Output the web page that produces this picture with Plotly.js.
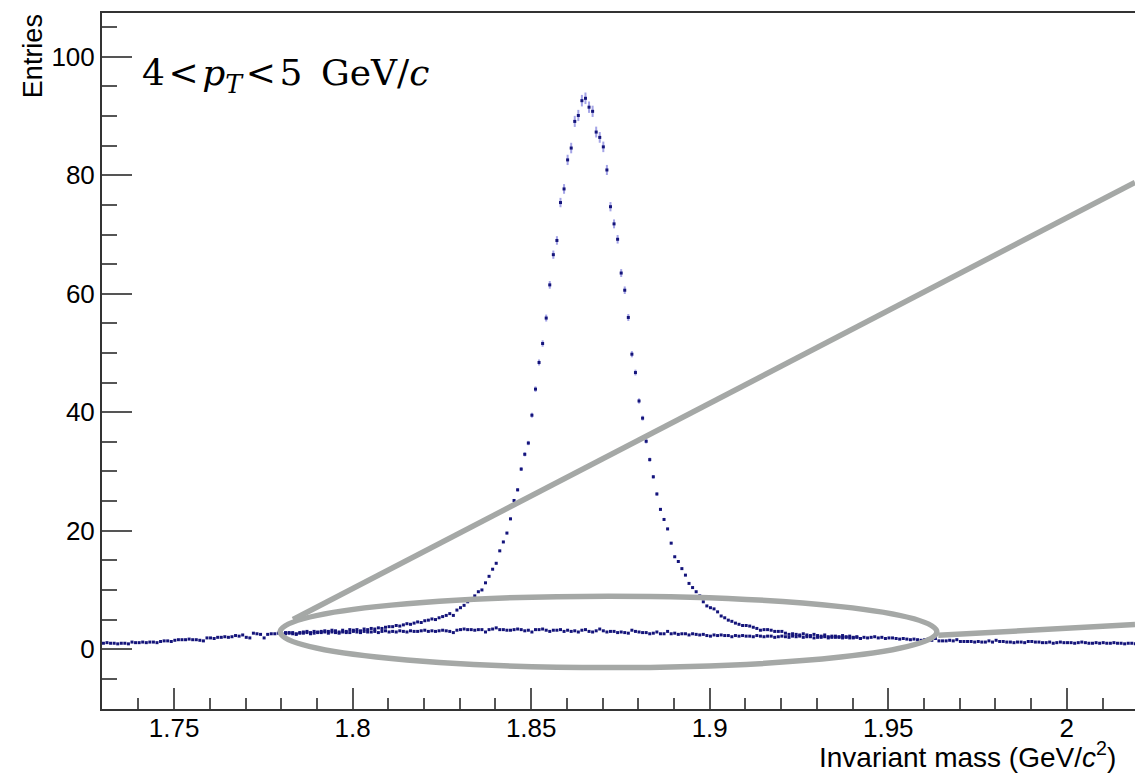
<!DOCTYPE html>
<html><head><meta charset="utf-8">
<script src="https://cdn.plot.ly/plotly-3.0.1.min.js"></script>
<style>html,body{margin:0;padding:0;background:#fff}</style>
</head><body><div id="chart" style="width:1135px;height:775px"></div>
<script>
// Histogram binning (GeV/c^2)
const binStart = 1.7302;
const binWidth = 0.001;

// Total entries per bin (signal + background), 290 bins
const total = [
  1.0,1.1,1.0,1.0,0.9,1.0,1.0,0.9,
  1.2,1.1,1.1,1.2,1.1,1.2,1.2,1.1,1.3,
  1.4,1.4,1.3,1.5,
  1.6,1.6,1.6,1.7,1.6,1.6,1.5,
  1.4,
  1.9,1.9,1.8,2.0,2.0,2.1,2.0,2.1,
  2.3,2.2,2.4,2.0,
  1.9,
  2.7,2.6,2.5,
  1.9,
  2.5,2.6,2.6,2.7,2.6,
  2.8,2.8,2.8,2.6,2.8,2.9,3.0,2.8,3.0,2.9,
  3.0,3.1,3.0,3.2,3.1,2.9,3.2,3.0,3.3,3.2,
  3.3,3.1,3.4,3.3,3.5,3.4,3.6,3.5,3.7,3.8,
  3.8,4.0,3.9,4.1,4.3,4.2,4.4,4.6,4.5,4.8,
  4.9,5.1,5.0,
  5.3,5.5,5.7,6.0,5.7,6.6,
  7.0,7.4,8.0,8.5,9.0,9.7,10.0,11.2,12.3,13.5,
  14.5,16.6,18.1,19.6,22.0,25.1,26.9,30.4,32.9,34.8,
  39.5,43.9,48.4,51.6,55.9,61.5,66.6,69.0,75.4,77.7,
  82.6,84.6,89.1,90.1,92.6,93.0,91.5,90.8,87.3,86.4,
  84.8,80.9,74.7,71.8,69.2,63.5,60.6,56.0,49.8,46.7,
  41.9,39.0,35.1,32.0,29.1,26.2,23.6,21.9,20.3,17.9,
  15.6,14.8,13.6,12.5,11.1,10.4,9.7,9.0,8.0,7.3,
  7.0,6.8,6.3,5.6,5.3,4.9,4.7,4.4,4.2,4.0,
  4.0,3.9,3.7,3.5,3.2,3.3,3.3,3.2,3.0,3.0,3.0,
  2.7,2.5,2.6,2.5,2.4,2.6,2.4,2.3,2.5,2.3,
  2.2,2.4,2.1,2.2,2.2,2.0,2.3,2.1,2.2,2.0,2.1,1.8,
  2.0,1.9,2.0,2.1,1.9,2.0,1.8,1.9,1.9,1.8,1.7,1.8,1.7,1.6,1.7,1.6,1.5,1.6,
  1.7,1.5,1.8,1.4,1.4,1.4,1.5,1.4,1.6,1.3,
  1.3,1.3,1.3,1.2,1.3,1.2,1.2,1.4,1.2,1.5,
  1.3,1.3,1.2,1.2,1.1,1.2,1.2,1.1,1.3,1.3,
  1.2,1.2,1.1,1.1,1.2,1.0,1.1,1.2,1.1,1.1,
  1.1,1.0,1.1,1.2,1.1,1.0,1.0,1.1,1.0,1.1,
  1.0,1.0,1.1,1.0,1.0,0.9,1.0,1.0,0.9
];

// Background entries, starting at bin index 51
const bkgFirstBin = 51;
const bkg = [
  2.6,2.7,2.6,2.5,2.7,2.7,2.8,2.6,2.7,2.8,
  2.8,2.9,2.7,2.9,2.8,2.7,2.9,2.8,2.8,3.0,
  2.9,2.8,3.0,2.9,2.9,3.0,2.8,3.0,3.1,2.9,
  3.0,2.9,3.1,3.0,2.9,3.1,3.0,3.0,3.1,3.2,
  3.0,3.1,3.0,3.1,3.2,3.1,3.0,2.8,3.2,3.3,
  3.4,3.3,3.3,3.2,3.3,3.3,2.9,3.3,3.4,3.6,
  3.3,3.3,3.2,3.2,3.3,3.4,3.3,3.1,3.2,2.9,
  3.3,3.3,3.4,3.2,3.0,3.2,3.2,3.3,3.0,3.2,
  3.0,3.1,2.9,3.2,3.3,3.0,2.9,3.1,3.4,3.1,
  2.9,3.0,3.0,2.8,2.9,2.8,2.7,3.2,3.0,2.9,
  2.8,2.8,2.6,2.7,2.9,2.6,2.6,3.0,2.6,2.7,
  2.5,2.6,2.6,2.4,2.6,2.5,2.4,2.5,2.3,2.2,
  2.4,2.3,2.4,2.3,2.3,2.1,2.3,2.2,2.3,2.2,
  2.2,2.1,2.3,2.2,2.1,2.2,2.2,2.0,2.1,2.2,
  2.1,2.0,2.2,2.1,2.2,2.0,2.1,2.1,1.9,2.0,
  2.0,2.1,1.9,2.0,2.0,2.1,1.9,2.0,1.9,1.9,2.0,1.8
];

const xTicks = [1.75, 1.8, 1.85, 1.9, 1.95, 2.0];
const xTickText = ['1.75', '1.8', '1.85', '1.9', '1.95', '2'];
const yTicks = [0, 20, 40, 60, 80, 100];

const xTotal = total.map((_, i) => binStart + i * binWidth);
const xBkg = bkg.map((_, i) => binStart + (bkgFirstBin + i) * binWidth);

const markerStyle = {symbol: 'square', size: 3, color: '#14147a', line: {width: 0}};
const errStyle = {type: 'percent', value: 1.05, visible: true, width: 0, thickness: 2, color: 'rgba(90,90,210,0.55)'};

const traces = [
  {x: xBkg, y: bkg, type: 'scatter', mode: 'markers', marker: markerStyle, error_y: errStyle, hoverinfo: 'skip'},
  {x: xTotal, y: total, type: 'scatter', mode: 'markers', marker: markerStyle, error_y: errStyle, hoverinfo: 'skip'}
];

const gray = '#a5a8a6';
const tickFont = {family: 'Liberation Sans, Arial, sans-serif', size: 26, color: '#000'};

const layout = {
  width: 1135, height: 775,
  margin: {l: 102, r: 0, t: 13, b: 66},
  paper_bgcolor: '#fff', plot_bgcolor: '#fff',
  showlegend: false,
  xaxis: {
    range: [1.7298, 2.0191], showgrid: false, zeroline: false,
    showline: true, linecolor: '#333', linewidth: 2, mirror: true,
    ticks: 'inside', ticklen: 21, tickwidth: 2, tickcolor: '#555',
    tickvals: xTicks, ticktext: xTickText, tickfont: tickFont, ticklabelstandoff: -5,
    minor: {dtick: 0.01, tick0: 1.73, ticks: 'inside', ticklen: 11, tickwidth: 2, tickcolor: '#555', showgrid: false}
  },
  yaxis: {
    range: [-10.1, 107.4], showgrid: false, zeroline: false,
    showline: true, linecolor: '#333', linewidth: 2, mirror: false,
    ticks: 'inside', ticklen: 30, tickwidth: 2, tickcolor: '#555',
    tickvals: yTicks, tickfont: tickFont, ticklabelstandoff: 0,
    minor: {dtick: 5, tick0: 0, ticks: 'inside', ticklen: 15, tickwidth: 2, tickcolor: '#555', showgrid: false}
  },
  shapes: [
    {type: 'circle', xref: 'x', yref: 'y', x0: 1.7797, x1: 1.9636, y0: -3.1, y1: 8.95,
     line: {color: gray, width: 5.5}, layer: 'above'},
    {type: 'line', xref: 'x', yref: 'y', x0: 1.7833, y0: 5.0, x1: 2.0191, y1: 78.8,
     line: {color: gray, width: 5.5}, layer: 'above'},
    {type: 'line', xref: 'x', yref: 'y', x0: 1.9640, y0: 2.36, x1: 2.0191, y1: 4.15,
     line: {color: gray, width: 5.5}, layer: 'above'}
  ],
  annotations: [
    {xref: 'paper', yref: 'paper', x: -0.0668, y: 0.938, xanchor: 'center', yanchor: 'middle',
     text: 'Entries', textangle: -90, showarrow: false,
     font: {family: 'Liberation Sans, Arial, sans-serif', size: 27, color: '#000'}},
    {xref: 'paper', yref: 'paper', x: 0.9835, y: -0.066, xanchor: 'right', yanchor: 'middle',
     text: 'Invariant mass (GeV/<i>c</i><sup>2</sup>)', showarrow: false,
     font: {family: 'Liberation Sans, Arial, sans-serif', size: 28, color: '#000'}},
    {xref: 'paper', yref: 'paper', x: 0.0368, y: 0.9095, xanchor: 'left', yanchor: 'middle',
     text: '4\u200A&lt;\u200A<i>p</i><sub><i>T</i></sub>\u200A&lt;\u200A5\u2009 GeV/<i>c</i>', showarrow: false,
     font: {family: 'DejaVu Serif, serif', size: 36, color: '#000'}}
  ]
};

Plotly.newPlot('chart', traces, layout, {staticPlot: true, displayModeBar: false});
</script>
</body></html>
